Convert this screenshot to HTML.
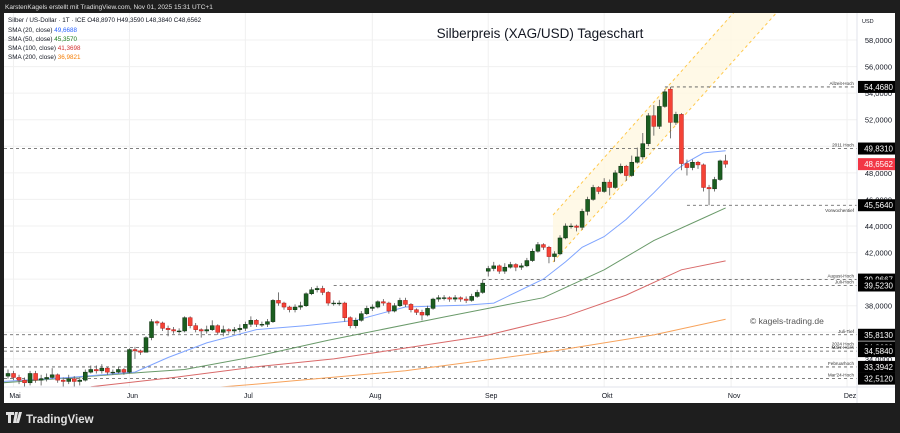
<!DOCTYPE html>
<html><head><meta charset="utf-8">
<style>
html,body{margin:0;padding:0;background:#1e1e1e;width:900px;height:433px;overflow:hidden;font-family:"Liberation Sans",sans-serif}
svg{display:block}
</style></head>
<body>
<svg id="chart" width="900" height="433" xmlns="http://www.w3.org/2000/svg">
  <rect x="0" y="0" width="900" height="433" fill="#1e1e1e"/>
  <text x="5" y="9" font-size="6.5" fill="#e0e0e0">KarstenKagels erstellt mit TradingView.com, Nov 01, 2025 15:31 UTC+1</text>
  <rect x="4" y="13" width="891" height="390" fill="#ffffff"/>
  <g id="grid"></g>
  <g id="chan"></g>
  <g id="hlines"></g>
  <g id="smas"></g>
  <g id="candles"></g>
  <g id="yaxis"></g>
  <g id="xaxis"></g>
  <text x="540" y="38" font-size="13.5" fill="#131722" text-anchor="middle">Silberpreis (XAG/USD) Tageschart</text>
  <text x="750" y="324" font-size="8.5" fill="#555">© kagels-trading.de</text>
  <g font-size="6.3">
    <text x="8" y="22" fill="#131722">Silber / US-Dollar · 1T · ICE  O48,8970  H49,3590  L48,3840  C48,6562</text>
    <text x="8" y="32" fill="#131722">SMA (20, close) <tspan fill="#2962ff">49,6688</tspan></text>
    <text x="8" y="41" fill="#131722">SMA (50, close) <tspan fill="#1b7a1b">45,3570</tspan></text>
    <text x="8" y="50" fill="#131722">SMA (100, close) <tspan fill="#d32f2f">41,3698</tspan></text>
    <text x="8" y="59" fill="#131722">SMA (200, close) <tspan fill="#f57c00">36,9821</tspan></text>
  </g>
  <g>
    <path d="M6 412h8v3h-3v8h-3v-8h-2z M15 412h3l-2 11h-3z M19 412h3l-3 11h-3z" fill="#e0e0e0"/>
    <text x="26" y="423" font-size="11.5" font-weight="bold" fill="#e0e0e0">TradingView</text>
  </g>
</svg>
<script>
const months = ["Mai","Jun","Jul","Aug","Sep","Okt","Nov","Dez"];
const monthBars = [1,22,43,66,87,108,131,152];
const yTicks = [58,56,54,52,50,48,46,44,42,40,38,36,34];
const opens = [32.7,32.9,32.6,32.4,32.2,32.9,32.4,32.5,32.6,32.8,32.4,32.3,32.5,32.3,32.4,33.0,33.2,33.1,33.3,33.0,33.0,33.2,
33.0,34.7,34.6,34.5,35.6,36.8,36.7,36.3,36.2,36.1,36.1,37.1,36.5,36.2,36.1,36.2,36.5,36.0,36.2,36.1,36.2,
36.3,36.6,36.9,36.6,36.6,36.8,38.4,38.2,37.9,37.7,37.9,38.0,38.9,39.2,39.3,39.0,38.2,38.2,38.2,37.1,36.5,36.9,37.4,
37.8,37.9,38.3,38.2,37.6,38.0,38.4,38.1,37.7,37.5,37.3,37.8,38.5,38.6,38.6,38.5,38.6,38.5,38.4,38.7,39.0,
40.6,40.8,41.0,40.6,40.9,41.1,40.9,41.0,41.4,42.1,42.6,42.4,41.7,41.9,43.1,44.0,44.0,43.9,45.1,46.0,46.9,
46.6,47.3,46.9,48.0,48.5,47.8,48.8,49.2,50.2,52.3,51.5,53.0,54.3,51.8,52.4,48.7,48.4,48.8,48.6,46.9,46.8,47.5,48.9];
const closes = [32.9,32.6,32.4,32.2,32.9,32.4,32.5,32.6,32.8,32.4,32.3,32.5,32.3,32.4,33.0,33.2,33.1,33.3,33.0,33.0,33.2,33.0,
34.7,34.6,34.5,35.6,36.8,36.7,36.3,36.2,36.1,36.1,37.1,36.5,36.2,36.1,36.2,36.5,36.0,36.2,36.1,36.2,36.3,
36.6,36.9,36.6,36.6,36.8,38.4,38.2,37.9,37.7,37.9,38.0,38.9,39.2,39.3,39.0,38.2,38.2,38.2,37.1,36.5,36.9,37.4,37.8,
37.9,38.3,38.2,37.6,38.0,38.4,38.1,37.7,37.5,37.3,37.8,38.5,38.6,38.6,38.5,38.6,38.5,38.4,38.7,39.0,39.7,
40.8,41.0,40.6,40.9,41.1,40.9,41.0,41.4,42.1,42.6,42.4,41.7,41.9,43.1,44.0,44.0,43.9,45.1,46.0,46.9,46.6,
47.3,46.9,48.0,48.5,47.8,48.8,49.2,50.2,52.3,51.5,53.0,54.1,51.8,52.4,48.7,48.4,48.8,48.6,46.9,46.8,47.5,48.9,48.6562];
const highs = [33.2,33.1,32.8,32.6,33.1,33.1,32.8,32.9,33.3,32.9,32.6,32.8,32.7,32.6,33.2,33.5,33.5,33.6,33.4,33.2,33.4,33.3,
34.8,34.9,34.7,35.7,37.0,36.9,36.8,36.5,36.4,36.3,37.2,37.2,36.7,36.3,36.5,36.9,36.6,36.5,36.3,36.4,36.6,
36.8,37.2,37.0,36.8,37.0,38.5,39.0,38.3,38.0,38.1,38.3,39.0,39.4,39.5,39.5,39.1,38.4,38.4,38.3,37.2,37.1,37.6,38.0,
38.1,38.4,38.5,38.3,38.2,38.6,38.6,38.2,37.8,37.7,38.0,38.6,38.8,38.8,38.7,38.8,38.7,38.7,38.9,39.2,39.97,
41.0,41.3,41.1,41.2,41.3,41.2,41.2,41.6,42.3,42.8,42.7,42.5,42.1,43.3,44.2,44.2,44.1,45.3,46.2,47.1,47.0,
47.6,47.5,48.2,48.7,48.6,49.3,49.9,51.0,52.5,53.1,53.5,54.3,54.47,52.6,52.5,49.0,49.0,48.9,48.7,47.1,47.7,49.0,49.36];
const lows = [32.5,32.4,32.1,31.9,32.0,32.2,32.0,32.3,32.5,32.2,31.8,32.1,31.9,32.0,32.3,32.9,32.9,32.9,32.8,32.8,32.9,32.8,
32.9,34.0,34.3,34.5,35.4,36.5,36.1,35.7,35.9,35.9,36.0,36.3,36.0,35.6,35.9,36.1,35.8,35.7,35.9,35.9,36.0,
36.1,36.4,36.4,36.4,36.4,36.7,38.0,37.7,37.5,37.5,37.7,37.9,38.8,39.0,38.8,38.0,38.0,38.0,36.8,36.3,36.3,36.8,37.3,
37.6,37.8,38.0,37.4,37.5,37.9,37.9,37.5,37.3,36.9,37.2,37.7,38.3,38.4,38.3,38.3,38.3,38.2,38.3,38.6,38.9,
40.2,40.6,40.4,40.4,40.8,40.6,40.7,40.9,41.3,42.0,42.2,41.2,41.3,41.8,43.0,43.8,43.6,43.7,44.8,45.9,46.4,
46.5,46.3,46.8,47.9,47.4,47.7,48.7,49.0,50.0,50.8,51.3,52.9,50.6,51.6,48.2,47.8,48.2,48.3,46.6,45.56,46.6,47.4,48.38];
// SMA samples: bar index + value
const sma20Bars = [-1,11,23,29,36,45,54,63,72,83,88,97,101,104,108,112,117,121,123,126,130];
const sma20Vals = [32.3,32.6,33.0,34.1,35.2,36.2,36.5,36.9,37.9,38.05,38.2,40.0,41.3,42.4,43.2,44.5,46.5,48.2,48.8,49.5,49.67];
const sma50Bars = [-1,25,32,45,58,79,90,97,108,117,126,130];
const sma50Vals = [32.2,33.0,33.2,34.2,35.4,37.15,38.05,38.6,40.7,42.9,44.6,45.36];
const sma100Bars = [15,30,45,59,86,101,112,122,130];
const sma100Vals = [31.9,32.6,33.4,34.0,35.7,37.2,38.8,40.7,41.37];
const sma200Bars = [36,45,72,99,117,130];
const sma200Vals = [31.8,32.1,33.1,34.6,35.8,36.98];
const levelVals = [54.468,49.831,45.564,39.9667,39.523,35.813,34.863,34.584,33.3942,32.512];
const levelStartBars = [119,-3,123,86,59,-3,-3,-3,-3,-3];
const levelNames = ["Allzeit-Hoch","2011 Hoch","Vorwochentief","August-Hoch","Juli-Hoch","Juli-Tief","2024 Hoch","März-Hoch","Februarhoch","Mar'24-Hoch"];
const levelLabels = ["54,4680","49,8310","45,5640","39,9667","39,5230","35,8130","34,8630","34,5840","33,3942","32,5120"];
const lastLabel = "48,6562";

const NS="http://www.w3.org/2000/svg";
const PL=4, PR=857, PT=13, PB=387;
const yOf = p => 40 + (58 - p) * 13.286;
const xOf = i => 8 + i * 5.52;
function mk(tag, attrs, parent){const e=document.createElementNS(NS,tag);for(const k in attrs)e.setAttribute(k,attrs[k]);parent.appendChild(e);return e;}

const svg=document.getElementById('chart');
const defs=mk('defs',{},svg);
const cp=mk('clipPath',{id:'plotclip'},defs);
mk('rect',{x:PL,y:PT,width:PR-PL,height:PB-PT},cp);
['grid','chan','hlines','smas','candles'].forEach(id=>document.getElementById(id).setAttribute('clip-path','url(#plotclip)'));

// grid
const grid=document.getElementById('grid');
yTicks.forEach(t=>{const l=mk('line',{x1:PL,x2:PR,y1:yOf(t),y2:yOf(t),stroke:'#f0f0f0','stroke-width':1},grid);

});
monthBars.forEach(b=>{const l=mk('line',{x1:xOf(b),x2:xOf(b),y1:PT,y2:PB,stroke:'#f0f0f0','stroke-width':1},grid);

});

// channel
const chan=document.getElementById('chan');
const poly=mk('polygon',{points:'553,215 733,13 776,13 553,262',fill:'#fff8e1','fill-opacity':0.8},chan);


[[553,215,745,0],[553,262,788,0]].forEach(c=>{const l=mk('line',{x1:c[0],y1:c[1],x2:c[2],y2:c[3],stroke:'#ffc94d','stroke-width':1,'stroke-dasharray':'3,3'},chan);

});

// level lines
const hl=document.getElementById('hlines');
levelVals.forEach((v,i)=>{const y=yOf(v);
const l=mk('line',{x1:Math.max(PL,xOf(levelStartBars[i])),x2:PR,y1:y,y2:y,stroke:'#555','stroke-width':0.8,'stroke-dasharray':'3,3'},hl);


const t=mk('text',{x:854,y:(i===2? y+7 : y-2),'font-size':4.6,fill:'#333','text-anchor':'end'},hl);
t.textContent=levelNames[i];

});

// SMAs
const smas=document.getElementById('smas');
[[sma200Bars,sma200Vals,'#f7a35c','sma200-line'],[sma100Bars,sma100Vals,'#d96a6a','sma100-line'],[sma50Bars,sma50Vals,'#6a9a6a','sma50-line'],[sma20Bars,sma20Vals,'#7fa4ff','sma20-line']].forEach(s=>{
const pts=s[0].map((b,i)=>xOf(b).toFixed(1)+','+yOf(s[1][i]).toFixed(1)).join(' ');
const p=mk('polyline',{points:pts,fill:'none',stroke:s[2],'stroke-width':1},smas);

});

// candles
const cg=document.getElementById('candles');
closes.forEach((c,i)=>{const o=opens[i];const x=xOf(i);const up=c>=o;
const g=mk('g',{},cg);


mk('line',{x1:x,x2:x,y1:yOf(highs[i]),y2:yOf(lows[i]),stroke:'#555','stroke-width':0.8},g);
const top=yOf(Math.max(o,c)),bot=yOf(Math.min(o,c));
mk('rect',{x:x-2,y:top,width:4,height:Math.max(0.8,bot-top),fill:up?'#1b5e20':'#f44336',stroke:up?'#0d2e10':'#b71c1c','stroke-width':0.5},g);});

// y axis
const ya=document.getElementById('yaxis');
mk('rect',{x:PR,y:PT,width:38,height:PB-PT+16,fill:'#fff'},ya);
mk('line',{x1:PR,x2:PR,y1:PT,y2:PB+16,stroke:'#e0e3eb'},ya);
const usd=mk('text',{x:862,y:23,'font-size':5.5,fill:'#131722'},ya);usd.textContent='USD';


yTicks.forEach(t=>{const tx=mk('text',{x:892,y:yOf(t)+3,'font-size':7.5,fill:'#131722','text-anchor':'end'},ya);
tx.textContent=t.toFixed(4).replace('.',',');

});
levelVals.forEach((v,i)=>{const y=yOf(v);
const r=mk('rect',{x:858,y:y-6,width:37,height:12,fill:'#000'},ya);


const t=mk('text',{x:893,y:y+3,'font-size':8,fill:'#fff','text-anchor':'end'},ya);t.textContent=levelLabels[i];

});
const lastY=yOf(closes[closes.length-1]);
const lr=mk('rect',{x:858,y:lastY-6,width:37,height:12,fill:'#f23645'},ya);


const lt=mk('text',{x:893,y:lastY+3,'font-size':8,fill:'#fff','text-anchor':'end'},ya);
lt.textContent=lastLabel;



// x axis
const xa=document.getElementById('xaxis');
mk('line',{x1:PL,x2:PR+38,y1:PB,y2:PB,stroke:'#e0e3eb'},xa);
months.forEach((m,i)=>{const x=xOf(monthBars[i]);if(x>PR)return;
const t=mk('text',{x:(i===0?15:x+3),y:398,'font-size':7,fill:'#131722','text-anchor':'middle'},xa);
t.textContent=m;

});
</script>
</body></html>
